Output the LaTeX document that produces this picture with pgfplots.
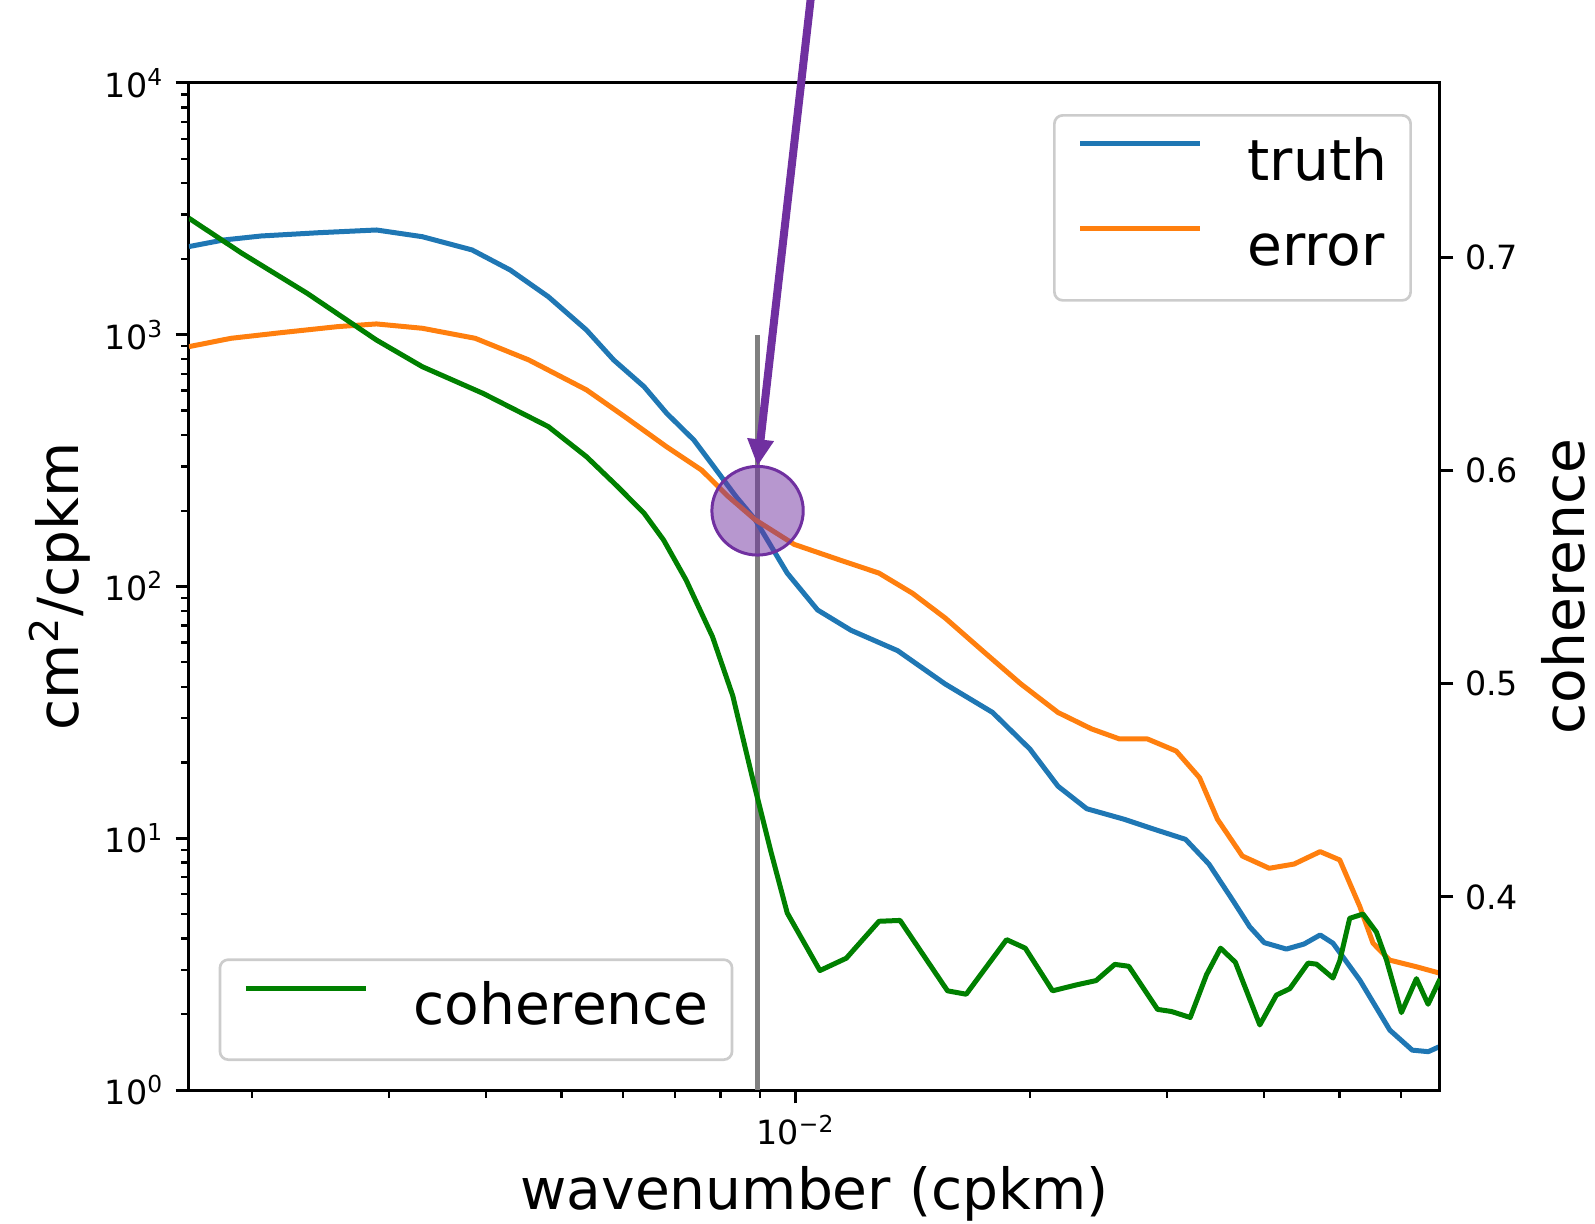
\documentclass[border=0pt]{standalone}
\usepackage{fontspec}
\setmainfont{DejaVu Sans}
\usepackage{pgfplots}
\usepackage{pgfplotstable}
\pgfplotsset{compat=1.18}
\usetikzlibrary{arrows.meta}

\definecolor{truthblue}{RGB}{31,119,180}
\definecolor{errorange}{RGB}{255,127,14}
\definecolor{cohgreen}{RGB}{0,128,0}
\definecolor{notepurple}{RGB}{112,48,160}

% wavenumber (cpkm) vs. spectral density (cm^2/cpkm)
\pgfplotstableread{
k psd
0.00166 2240
0.001837 2378
0.002056 2468
0.002438 2543
0.002891 2607
0.003311 2452
0.003837 2172
0.004295 1808
0.004808 1416
0.005383 1044
0.005834 794
0.006383 622
0.006823 488
0.007396 382
0.007907 290
0.008375 228
0.008872 184
0.00975 113
0.010666 80.7
0.011776 67
0.013521 55.6
0.01556 41
0.017906 31.6
0.02 22.6
0.021727 16.1
0.023659 13.1
0.026424 11.9
0.028774 10.9
0.031696 9.9
0.033963 7.9
0.036475 5.65
0.03833 4.45
0.04 3.85
0.04272 3.63
0.045 3.8
0.0472 4.13
0.04903 3.83
0.05309 2.73
0.05801 1.73
0.062 1.44
0.065 1.42
0.0673 1.49
}\truthtable

\pgfplotstableread{
k psd
0.00166 897
0.00188 968
0.002178 1019
0.002576 1077
0.002891 1104
0.003311 1061
0.003873 968
0.004539 794
0.005383 604
0.006026 473
0.006823 359
0.007568 290
0.008185 228
0.008872 184
0.009954 147
0.011429 127
0.012794 113
0.014125 94
0.01556 75
0.017378 55.6
0.019454 41.1
0.021727 31.6
0.023988 27.2
0.026062 24.8
0.028314 24.8
0.030832 22.2
0.033037 17.4
0.034834 11.9
0.037497 8.5
0.0406 7.6
0.0437 7.9
0.0472 8.85
0.05002 8.2
0.05309 5.35
0.0552 3.83
0.058 3.28
0.0627 3.09
0.0673 2.91
}\errortable

\pgfplotstableread{
k coh
0.00166 0.7182
0.001941 0.7018
0.002355 0.683
0.002891 0.6611
0.003311 0.6486
0.003963 0.6361
0.004808 0.6205
0.005383 0.6064
0.005902 0.5924
0.006383 0.5799
0.006761 0.5674
0.007228 0.5486
0.007816 0.522
0.008299 0.4943
0.00877 0.4578
0.00929 0.4213
0.00975 0.3925
0.01074 0.3655
0.011614 0.3713
0.012794 0.3886
0.013614 0.389
0.015668 0.356
0.016558 0.3544
0.018664 0.380
0.019724 0.376
0.02138 0.356
0.022961 0.3588
0.024322 0.3608
0.025704 0.3684
0.026792 0.3675
0.029174 0.3473
0.030409 0.3463
0.032137 0.3435
0.033729 0.3636
0.035156 0.376
0.036728 0.3694
0.03949 0.340
0.04147 0.354
0.04315 0.357
0.04555 0.369
0.0467 0.3685
0.04903 0.362
0.05002 0.370
0.05152 0.390
0.05359 0.392
0.05576 0.3835
0.05744 0.3705
0.06004 0.3458
0.06277 0.3617
0.06497 0.3497
0.0673 0.3615
}\cohtable

\begin{document}
\begin{tikzpicture}
% spectra on the left (log) axis
\begin{axis}[
  at={(0,0)}, anchor=south west,
  scale only axis, width=375.3pt, height=302.1pt,
  xmode=log, xmin=0.00166, xmax=0.0673,
  ymode=log, ymin=1, ymax=10000,
  axis line style={line width=0.9pt, black},
  tick align=outside,
  major tick length=4pt, minor tick length=2.3pt,
  every major tick/.style={line width=0.9pt, black},
  every minor tick/.style={line width=0.7pt, black},
  tick label style={font=\fontsize{10}{12}\selectfont},
  label style={font=\fontsize{17}{20}\selectfont},
  xtick pos=left, ytick pos=left,
  xtick={0.01}, xticklabels={10\textsuperscript{−2}},
  minor xtick={0.002,0.003,0.004,0.005,0.006,0.007,0.008,0.009,0.02,0.03,0.04,0.05,0.06},
  ytick={1,10,100,1000,10000},
  yticklabels={10\textsuperscript{0},10\textsuperscript{1},10\textsuperscript{2},10\textsuperscript{3},10\textsuperscript{4}},
  minor ytick={2,3,4,5,6,7,8,9,20,30,40,50,60,70,80,90,200,300,400,500,600,700,800,900,2000,3000,4000,5000,6000,7000,8000,9000},
  xlabel={wavenumber (cpkm)},
  ylabel={cm\textsuperscript{2}/cpkm},
  xlabel style={at={(axis description cs:0.5,0)}, anchor=north, inner sep=0pt, yshift=-22.8pt},
  ylabel style={at={(axis description cs:-0.0879,0.5)}, anchor=base, inner sep=0pt},
  legend style={
    at={(0.9776,0.9692)}, anchor=north east,
    draw=black!20, line width=0.8pt, rounded corners=2.5pt,
    fill=white, fill opacity=0.8, text opacity=1,
    inner xsep=7pt, inner ysep=6.5pt,
    row sep=8.5pt, column sep=13.5pt,
    font=\fontsize{17}{20}\selectfont,
    nodes={inner sep=0pt, text height=13pt, text depth=4pt},
  },
  legend cell align=left,
  legend image code/.code={\draw[#1, line width=1.5pt, sharp corners] (0pt,6.5pt) -- (36pt,6.5pt);},
]
\addplot[gray, line width=1.4pt, forget plot] coordinates {(0.00893,1) (0.00893,1000)};
\addplot[truthblue, line width=1.5pt, line join=round] table[x=k, y=psd] {\truthtable};
\addlegendentry{truth}
\addplot[errorange, line width=1.5pt, line join=round] table[x=k, y=psd] {\errortable};
\addlegendentry{error}
\coordinate (circC) at (axis cs:0.00893,200);
\coordinate (arrTip) at (axis cs:0.00893,301);
\coordinate (arrTail) at (axis cs:0.010553,28120);
\end{axis}

% coherence on the right (linear) axis
\begin{axis}[
  at={(0,0)}, anchor=south west,
  scale only axis, width=375.3pt, height=302.1pt,
  xmode=log, xmin=0.00166, xmax=0.0673,
  ymin=0.3095, ymax=0.7816,
  axis x line=none, axis y line*=right,
  axis line style={line width=0.9pt, black},
  tick align=outside,
  major tick length=4pt,
  every major tick/.style={line width=0.9pt, black},
  tick label style={font=\fontsize{10}{12}\selectfont},
  label style={font=\fontsize{17}{20}\selectfont},
  ytick={0.4,0.5,0.6,0.7}, yticklabels={0.4,0.5,0.6,0.7},
  minor ytick={},
  ylabel={coherence},
  ylabel style={at={(axis description cs:1.1159,0.5)}, anchor=base, inner sep=0pt},
  legend style={
    at={(0.0237,0.0288)}, anchor=south west,
    draw=black!20, line width=0.8pt, rounded corners=2.5pt,
    fill=white, fill opacity=0.8, text opacity=1,
    inner xsep=7pt, inner ysep=6.5pt,
    column sep=13.5pt,
    font=\fontsize{17}{20}\selectfont,
    nodes={inner sep=0pt, text height=13pt, text depth=4pt},
  },
  legend cell align=left,
  legend image code/.code={\draw[#1, line width=1.5pt, sharp corners] (0pt,6.5pt) -- (36pt,6.5pt);},
]
\addplot[cohgreen, line width=1.5pt, line join=round] table[x=k, y=coh] {\cohtable};
\addlegendentry{coherence}
\end{axis}

% highlighted crossover
\draw[line width=0.9pt, draw=notepurple, fill=notepurple, fill opacity=0.5]
  (circC) ellipse [x radius=13.7pt, y radius=13.3pt];
\draw[notepurple, line width=2.4pt, -{Triangle[width=7.5pt,length=8pt]}] (arrTail) -- (arrTip);

\pgfresetboundingbox
\useasboundingbox (-56.7pt,-39.9pt) rectangle (421.8pt,327pt);
\end{tikzpicture}
\end{document}
